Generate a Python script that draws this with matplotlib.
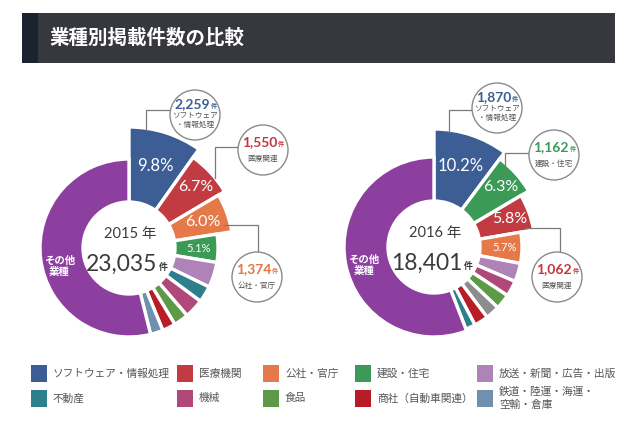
import numpy as np
import matplotlib.pyplot as plt
from matplotlib.patches import Rectangle, Circle

plt.rcParams['font.family'] = ['Lato', 'Noto Sans CJK JP', 'DejaVu Sans']

# ---- datos ----
title = '業種別掲載件数の比較'

legend_names = ['ソフトウェア・情報処理', '医療機関', '公社・官庁', '建設・住宅', '放送・新聞・広告・出版',
                '不動産', '機械', '食品', '商社（自動車関連）', '鉄道・陸運・海運・\n空輸・倉庫']
legend_colors = ['#3c5e95', '#c23b42', '#e5794a', '#3a9a56', '#b083b8',
                 '#2d7f8e', '#b0497a', '#5d9a47', '#b81d27', '#7190ad']

# 2015 (sentido horario desde arriba)
share_2015 = [9.8, 6.7, 6.0, 5.1, 4.6, 3.0, 3.5, 2.7, 2.4, 2.3, 53.9]
colors_2015 = ['#3c5e95', '#c23b42', '#e5794a', '#3a9a56', '#b083b8',
               '#2d7f8e', '#b0497a', '#5d9a47', '#b81d27', '#7190ad', '#8d3f9f']
total_2015 = 23035
count_2015 = [2259, 1550, 1374]
callname_2015 = ['ソフトウェア\n・情報処理', '医療関連', '公社・官庁']
callcolor_2015 = ['#3c5e95', '#c8333d', '#e5743f']

# 2016
share_2016 = [10.2, 6.3, 5.8, 5.7, 3.4, 2.9, 2.8, 2.6, 2.6, 1.8, 55.9]
colors_2016 = ['#3c5e95', '#3a9a56', '#c23b42', '#e5794a', '#b083b8',
               '#b0497a', '#5d9a47', '#8c8c8c', '#b81d27', '#2d7f8e', '#8d3f9f']
total_2016 = 18401
count_2016 = [1870, 1162, 1062]
callname_2016 = ['ソフトウェア\n・情報処理', '建設・住宅', '医療関連']
callcolor_2016 = ['#3c5e95', '#3a9a56', '#c8333d']

W, H = 640, 426
fig = plt.figure(figsize=(W / 100, H / 100), dpi=100)
ax = fig.add_axes([0, 0, 1, 1])


def donut(shares, colors, center, radii, r_in, nudges, pct_sizes, year, total):
    cx, cy = center
    wedges, _ = ax.pie(shares, colors=colors, startangle=-90, counterclock=True,
                       radius=radii[-1], center=center,
                       wedgeprops=dict(width=radii[-1] - r_in, edgecolor='white', linewidth=2.4))
    for w, r in zip(wedges, radii):
        w.set_radius(r)
        w.set_width(r - r_in)
    # porcentajes
    for i in range(4):
        w = wedges[i]
        mid = np.deg2rad((w.theta1 + w.theta2) / 2)
        rr = (r_in + radii[i]) / 2 + nudges[i]
        ax.text(cx + rr * np.cos(mid), cy + rr * np.sin(mid), f'{shares[i]}%',
                color='white', fontsize=pct_sizes[i], ha='center', va='center', zorder=5)
    # centro
    ax.text(cx + 1, cy - 14, f'{year} 年', fontsize=10.5, color='#3b3b3b',
            ha='center', va='center')
    t = ax.text(cx - 7, cy + 16, f'{total:,}', fontsize=16.5, color='#3b3b3b',
                ha='center', va='center')
    ax.annotate('件', xy=(1.02, 0.12), xycoords=t, fontsize=6.5, color='#3b3b3b',
                ha='left', va='bottom', weight='bold')
    # otros
    rr = (r_in + radii[-1]) / 2
    ax.text(cx - rr - 2, cy + 18, 'その他\n業種', fontsize=7.5, color='white', ha='center',
            va='center', weight='bold', linespacing=1.15)


def callout(center, n, name, color, line_x, line_y):
    cx, cy = center
    ax.plot(line_x, line_y, color='#7a7a7a', lw=0.9, zorder=3)
    ax.add_patch(Circle((cx, cy), 25, facecolor='white', edgecolor='#8a8a8a', lw=1.0, zorder=4))
    two = '\n' in name
    t = ax.text(cx - 3, cy - (11 if two else 8), f'{n:,}', fontsize=10, color=color,
                weight='bold', ha='center', va='center', zorder=5)
    ax.annotate('件', xy=(1.02, 0.05), xycoords=t, fontsize=4.5, color=color,
                weight='bold', ha='left', va='bottom', zorder=5)
    ax.text(cx, cy + (5 if two else 8), name, fontsize=5.5, color='#555555', ha='center',
            va='center', linespacing=1.25, zorder=5)


donut(share_2015, colors_2015, (129, 248), [121, 111, 104, 89, 89, 89, 89, 89, 89, 89, 89],
      46, [3, 12, 3, 2], [12, 11.5, 11.5, 8], 2015, total_2015)
donut(share_2016, colors_2016, (434, 247), [118, 110, 101, 88, 88, 88, 88, 88, 88, 88, 90],
      46, [3, 12, 7, 4], [12, 11.5, 11.5, 8], 2016, total_2016)

callout((195, 115), count_2015[0], callname_2015[0], callcolor_2015[0], [171, 146, 146], [110, 110, 130])
callout((263, 150), count_2015[1], callname_2015[1], callcolor_2015[1], [238, 215, 215], [147, 147, 178])
callout((257, 277), count_2015[2], callname_2015[2], callcolor_2015[2], [224, 258, 258], [225, 225, 252])

callout((497, 108), count_2016[0], callname_2016[0], callcolor_2016[0], [473, 449, 449], [110, 110, 132])
callout((554, 155), count_2016[1], callname_2016[1], callcolor_2016[1], [529, 505, 505], [153, 153, 185])
callout((557, 277), count_2016[2], callname_2016[2], callcolor_2016[2], [526, 560, 560], [228, 228, 252])

# barra de titulo
ax.add_patch(Rectangle((21.5, 12.5), 593, 50.5, facecolor='#37383d', edgecolor='none'))
ax.add_patch(Rectangle((21.5, 12.5), 16, 50.5, facecolor='#1b2230', edgecolor='none'))
ax.text(49, 37.5, title, color='white', fontsize=14, weight='bold', ha='left', va='center')

# leyenda
col_x = [31, 177, 263, 355, 477]
row_y = [373, 398]
for i, (name, col) in enumerate(zip(legend_names, legend_colors)):
    x = col_x[i % 5]
    y = row_y[i // 5]
    ax.add_patch(Rectangle((x, y - 8.5), 16, 17, facecolor=col, edgecolor='none'))
    ax.text(x + 22, y, name, fontsize=7.7, color='#555555', ha='left', va='center',
            linespacing=1.25)

ax.set_xlim(0, W)
ax.set_ylim(H, 0)
ax.set_aspect('equal')
ax.axis('off')
fig.savefig('out.png', dpi=100, facecolor='white')
